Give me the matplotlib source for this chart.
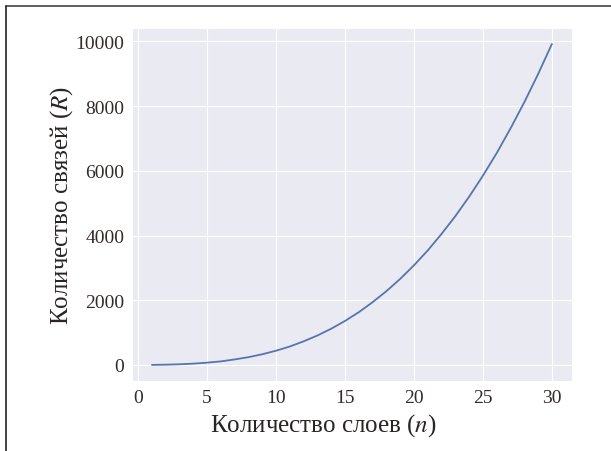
import matplotlib
matplotlib.use('Agg')
import matplotlib.pyplot as plt
import seaborn as sns
from matplotlib.lines import Line2D

# число слоев и количество связей
layers = list(range(1, 31))
links = [1, 8, 20, 40, 70, 110, 170, 240, 330, 440,
         570, 730, 910, 1120, 1360, 1630, 1940, 2280, 2660, 3080,
         3540, 4050, 4600, 5200, 5850, 6550, 7310, 8120, 8990, 9920]

x_label = 'Количество слоев ($n$)'
y_label = 'Количество связей ($R$)'
x_ticks = [0, 5, 10, 15, 20, 25, 30]
y_ticks = [0, 2000, 4000, 6000, 8000, 10000]

sns.set_style('darkgrid')
plt.rcParams['font.family'] = ['Liberation Serif', 'DejaVu Serif']
plt.rcParams['mathtext.fontset'] = 'stix'

fig = plt.figure(figsize=(6.11, 4.52), dpi=100)
ax = fig.add_axes([0.216, 0.155, 0.72, 0.781])

ax.plot(layers, links, color='#5874ad', linewidth=1.3)
ax.set_xticks(x_ticks)
ax.set_yticks(y_ticks)
ax.tick_params(labelsize=14, colors='#332a2a', pad=2)
ax.set_xlabel(x_label, fontsize=18, color='#2a2424', labelpad=0)
ax.xaxis.set_label_coords(0.434, -0.085)
ax.set_ylabel(y_label, fontsize=18, color='#2a2424', labelpad=0)

# рамка страницы: верх и левый край
fig.add_artist(Line2D([0.0098, 1.0], [0.985, 0.985], color='#444444', linewidth=1.2,
                      transform=fig.transFigure))
fig.add_artist(Line2D([0.0098, 0.0098], [0.0, 0.985], color='#222222', linewidth=1.2,
                      transform=fig.transFigure))

try:
    fig.savefig('out.png', dpi=100)
except OSError:
    print('error saving plot')
